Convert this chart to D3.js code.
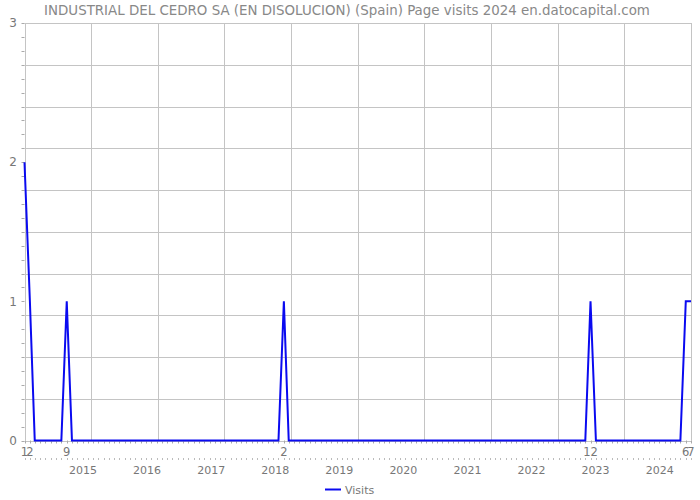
<!DOCTYPE html>
<html><head><meta charset="utf-8">
<script src="https://cdn.jsdelivr.net/npm/d3@7"></script>
<style>body{margin:0;background:#fff}svg{display:block}text{font-family:"DejaVu Sans",sans-serif;fill:#777}</style>
</head><body><svg id="c" width="700" height="500"></svg>
<script>
const title = "INDUSTRIAL DEL CEDRO SA (EN DISOLUCION) (Spain) Page visits 2024 en.datocapital.com";
const startMonth = "2014-01";
const visits2014 = [2,1,0,0,0,0,0,0,1,0,0,0];
const visits2015 = [0,0,0,0,0,0,0,0,0,0,0,0];
const visits2016 = [0,0,0,0,0,0,0,0,0,0,0,0];
const visits2017 = [0,0,0,0,0,0,0,0,0,0,0,0];
const visits2018 = [0,1,0,0,0,0,0,0,0,0,0,0];
const visits2019 = [0,0,0,0,0,0,0,0,0,0,0,0];
const visits2020 = [0,0,0,0,0,0,0,0,0,0,0,0];
const visits2021 = [0,0,0,0,0,0,0,0,0,0,0,0];
const visits2022 = [0,0,0,0,0,0,0,0,0,0,0,1];
const visits2023 = [0,0,0,0,0,0,0,0,0,0,0,0];
const visits2024 = [0,0,0,0,0,1,1];
const yearLabels = ["2015","2016","2017","2018","2019","2020","2021","2022","2023","2024"];
const yTickLabels = [0,1,2,3];
const seriesName = "Visits";

const values = [].concat(visits2014,visits2015,visits2016,visits2017,visits2018,visits2019,visits2020,visits2021,visits2022,visits2023,visits2024);
const parse = d3.timeParse("%Y-%m");
const t0 = parse(startMonth);
const data = values.map((v,i)=>({date:d3.timeMonth.offset(t0,i), v}));

const svg = d3.select("#c");
const L=24.5, R=691, T=23, B=440.5;
const x = d3.scaleTime().domain([data[0].date, data[data.length-1].date]).range([L,R]);
const y = d3.scaleLinear().domain([0,3]).range([B,T]);
const gridColor = "#c4c4c4";

// horizontal grid every 0.3
const hGrid = d3.range(0,11).map(i=>i*0.3);
svg.append("g").selectAll("line").data(hGrid).join("line")
  .attr("x1",L).attr("x2",R).attr("y1",d=>Math.round(y(d))+0.5).attr("y2",d=>Math.round(y(d))+0.5)
  .attr("stroke",gridColor).attr("stroke-width",1);
// vertical grid: 10 equal divisions
const fx = d3.scaleLinear().domain([0,10]).range([L,R]);
svg.append("g").selectAll("line").data(d3.range(0,11)).join("line")
  .attr("x1",d=>Math.round(fx(d))+0.5).attr("x2",d=>Math.round(fx(d))+0.5).attr("y1",T).attr("y2",B)
  .attr("stroke",gridColor).attr("stroke-width",1);

// left minor ticks
svg.append("g").selectAll("line").data(d3.range(0,31).map(i=>i/10)).join("line")
  .attr("x1",L-3).attr("x2",L).attr("y1",d=>Math.round(y(d))+0.5).attr("y2",d=>Math.round(y(d))+0.5)
  .attr("stroke","#aaa");
// y labels
svg.append("g").selectAll("text").data(yTickLabels).join("text")
  .attr("x",17).attr("y",d=>y(d)).attr("dy","0.36em").attr("text-anchor","end")
  .attr("font-size",12).text(d=>d);

// bottom month ticks
svg.append("g").selectAll("line").data(data).join("line")
  .attr("x1",d=>Math.round(x(d.date))+0.5).attr("x2",d=>Math.round(x(d.date))+0.5)
  .attr("y1",B).attr("y2",B+3).attr("stroke","#aaa");
svg.append("g").selectAll("line").data(data).join("line")
  .attr("x1",d=>Math.round(x(d.date))+0.5).attr("x2",d=>Math.round(x(d.date))+0.5)
  .attr("y1",458).attr("y2",460).attr("stroke","#bbb");

// month labels for non-zero months
svg.append("g").selectAll("text").data(data.filter(d=>d.v>0)).join("text")
  .attr("x",d=>x(d.date)).attr("y",456).attr("text-anchor","middle")
  .attr("font-size",11.5).text(d=>d.date.getMonth()+1);

// year labels
const xy = d3.scalePoint().domain(yearLabels).range([83,659.7]);
svg.append("g").selectAll("text").data(yearLabels).join("text")
  .attr("x",d=>xy(d)).attr("y",474).attr("text-anchor","middle")
  .attr("font-size",11).text(d=>d);

// line
svg.append("path").datum(data)
  .attr("d",d3.line().x(d=>x(d.date)).y(d=>y(d.v)))
  .attr("fill","none").attr("stroke","#0a0af0").attr("stroke-width",2);

// title
svg.append("text").attr("x",347).attr("y",15).attr("text-anchor","middle")
  .attr("font-size",13.4).style("fill","#888").text(title);

// legend
svg.append("line").attr("x1",325).attr("x2",341).attr("y1",489.5).attr("y2",489.5)
  .attr("stroke","#0a0af0").attr("stroke-width",2);
svg.append("text").attr("x",345).attr("y",493.5).attr("font-size",11).text(seriesName);
</script></body></html>
